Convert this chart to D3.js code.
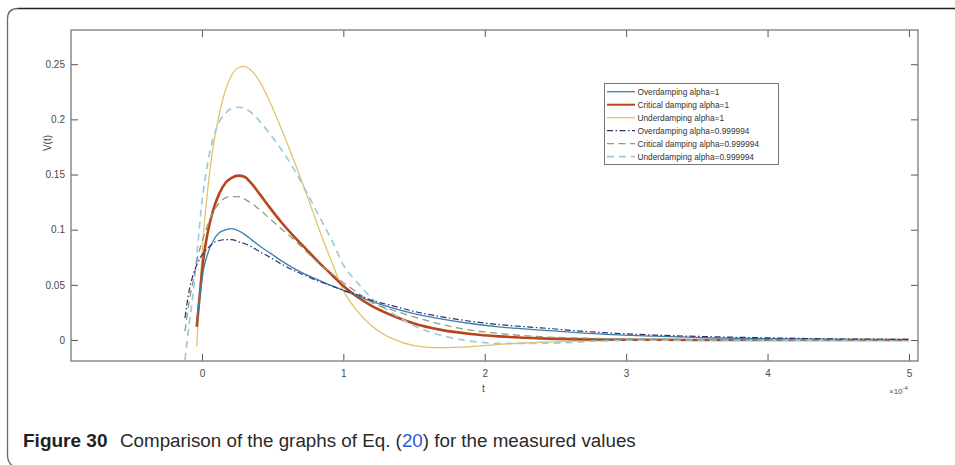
<!DOCTYPE html>
<html>
<head>
<meta charset="utf-8">
<script src="https://cdn.jsdelivr.net/npm/d3@7"></script>
<style>
  html, body { margin: 0; padding: 0; background: #fff; }
  svg { display: block; }
</style>
</head>
<body>
<svg id="chart" width="955" height="465"></svg>
<script>
// ---------- data (t in units of 1e-4) ----------
const tAlpha1 = [-0.037, -0.01, 0.01, 0.04, 0.08, 0.12, 0.17, 0.21, 0.26, 0.3, 0.35, 0.41, 0.48, 0.56, 0.65, 0.74, 0.83, 0.92, 1.0, 1.1, 1.2, 1.35, 1.5, 1.7, 1.9, 2.1, 2.4, 2.8, 3.2, 3.6, 4.0, 4.5, 5.0];
const overAlpha1 = [0.015, 0.045, 0.063, 0.078, 0.090, 0.097, 0.100, 0.101, 0.099, 0.096, 0.091, 0.085, 0.079, 0.072, 0.065, 0.059, 0.054, 0.049, 0.045, 0.040, 0.035, 0.029, 0.024, 0.019, 0.015, 0.012, 0.009, 0.0055, 0.0035, 0.002, 0.0012, 0.0006, 0.0003];
const critAlpha1 = [0.012, 0.048, 0.073, 0.097, 0.118, 0.132, 0.143, 0.147, 0.149, 0.148, 0.142, 0.132, 0.120, 0.107, 0.094, 0.082, 0.070, 0.059, 0.049, 0.039, 0.031, 0.022, 0.015, 0.009, 0.0055, 0.0033, 0.0015, 0.0005, 0.0002, 0, 0, 0, 0];
const underAlpha1 = [-0.006, 0.055, 0.095, 0.135, 0.176, 0.203, 0.228, 0.240, 0.247, 0.248, 0.244, 0.234, 0.216, 0.192, 0.163, 0.132, 0.100, 0.070, 0.045, 0.026, 0.013, 0.001, -0.005, -0.007, -0.006, -0.004, -0.002, -0.0005, 0, 0, 0, 0, 0];

const tAlphaFrac = [-0.12, -0.09, -0.06, -0.03, 0, 0.04, 0.08, 0.12, 0.17, 0.21, 0.26, 0.3, 0.35, 0.41, 0.48, 0.56, 0.65, 0.74, 0.83, 0.92, 1.0, 1.1, 1.2, 1.35, 1.5, 1.7, 1.9, 2.1, 2.4, 2.8, 3.2, 3.6, 4.0, 4.5, 5.0];
const overAlphaFrac = [0.020, 0.045, 0.060, 0.070, 0.077, 0.083, 0.088, 0.090, 0.091, 0.091, 0.089, 0.0875, 0.0845, 0.080, 0.075, 0.069, 0.063, 0.058, 0.053, 0.049, 0.045, 0.041, 0.036, 0.031, 0.026, 0.021, 0.017, 0.014, 0.011, 0.007, 0.0045, 0.003, 0.002, 0.001, 0.0006];
const critAlphaFrac = [0.008, 0.035, 0.055, 0.075, 0.089, 0.104, 0.116, 0.124, 0.129, 0.130, 0.130, 0.128, 0.124, 0.118, 0.110, 0.101, 0.091, 0.080, 0.069, 0.060, 0.052, 0.043, 0.034, 0.027, 0.021, 0.014, 0.009, 0.006, 0.003, 0.0015, 0.0007, 0.0003, 0, 0, 0];
const underAlphaFrac = [-0.018, 0.015, 0.045, 0.085, 0.125, 0.160, 0.183, 0.197, 0.206, 0.210, 0.211, 0.210, 0.206, 0.198, 0.187, 0.173, 0.155, 0.134, 0.112, 0.090, 0.068, 0.052, 0.038, 0.024, 0.013, 0.004, -0.001, -0.003, -0.003, -0.001, 0, 0, 0, 0, 0];

const seriesNames = ["Overdamping alpha=1", "Critical damping alpha=1", "Underdamping alpha=1",
                     "Overdamping alpha=0.999994", "Critical damping alpha=0.999994", "Underdamping alpha=0.999994"];
const xTicks = [0, 1, 2, 3, 4, 5];
const yTicks = [0, 0.05, 0.1, 0.15, 0.2, 0.25];
const yTickLabels = ["0", "0.05", "0.1", "0.15", "0.2", "0.25"];

// ---------- layout ----------
const svg = d3.select("#chart");
const box = {left: 71, right: 918, top: 30, bottom: 361};
const x = d3.scaleLinear().domain([-0.926, 5.064]).range([box.left, box.right]);
const y = d3.scaleLinear().domain([-0.019, 0.281]).range([box.bottom, box.top]);

// card border (left + top with rounded corners)
svg.append("path")
  .attr("d", "M7.5,452 L7.5,19 Q7.5,8.5 18,8.5")
  .attr("fill", "none").attr("stroke", "#6a6a6a").attr("stroke-width", 1.3);
svg.append("path")
  .attr("d", "M7.5,450 L7.5,455 Q7.5,465 17,468")
  .attr("fill", "none").attr("stroke", "#6a6a6a").attr("stroke-width", 1.3);
svg.append("line").attr("x1", 18).attr("x2", 960).attr("y1", 8.5).attr("y2", 8.5)
  .attr("stroke", "#222").attr("stroke-width", 1.3);

svg.append("defs").append("clipPath").attr("id", "plotclip")
  .append("rect").attr("x", box.left).attr("y", box.top)
  .attr("width", box.right - box.left).attr("height", box.bottom - box.top);

const axisColor = "#7a7a7a";
const fontFam = "'Liberation Sans', Arial, sans-serif";

// axes (MATLAB-like box with inward ticks on all sides)
const gx = svg.append("g").attr("transform", `translate(0,${box.bottom})`)
  .call(d3.axisBottom(x).tickValues(xTicks).tickFormat(d3.format("d")).tickSize(-7).tickPadding(9));
const gxTop = svg.append("g").attr("transform", `translate(0,${box.top})`)
  .call(d3.axisTop(x).tickValues(xTicks).tickFormat("").tickSize(-7));
const gy = svg.append("g").attr("transform", `translate(${box.left},0)`)
  .call(d3.axisLeft(y).tickValues(yTicks).tickFormat((d, i) => yTickLabels[i]).tickSize(-7).tickPadding(6));
const gyRight = svg.append("g").attr("transform", `translate(${box.right},0)`)
  .call(d3.axisRight(y).tickValues(yTicks).tickFormat("").tickSize(-7));

[gx, gxTop, gy, gyRight].forEach(g => {
  g.select(".domain").remove();
  g.selectAll(".tick line").attr("stroke", "#555").attr("stroke-width", 1);
  g.selectAll("text").attr("fill", "#4a4a4a").attr("font-family", fontFam).attr("font-size", 10);
});

// lines
const lineGen = d3.line().x(d => x(d[0])).y(d => y(d[1])).curve(d3.curveMonotoneX);
const series = [
  {t: tAlpha1, v: overAlpha1, color: "#3a80ab", width: 1.3, dash: null},
  {t: tAlpha1, v: critAlpha1, color: "#b8461d", width: 2.6, dash: null},
  {t: tAlpha1, v: underAlpha1, color: "#e2c36a", width: 1.3, dash: null},
  {t: tAlphaFrac, v: overAlphaFrac, color: "#2d3270", width: 1.2, dash: "6,2.5,1.5,2.5"},
  {t: tAlphaFrac, v: critAlphaFrac, color: "#8e9c80", width: 1.3, dash: "7,4.5"},
  {t: tAlphaFrac, v: underAlphaFrac, color: "#9ccbdd", width: 1.7, dash: "7,5"}
];
const plot = svg.append("g").attr("clip-path", "url(#plotclip)");
[2, 1, 0, 5, 4, 3].forEach(i => {
  const s = series[i];
  plot.append("path")
    .datum(s.t.map((tt, k) => [tt, s.v[k]]))
    .attr("d", lineGen)
    .attr("fill", "none")
    .attr("stroke", s.color)
    .attr("stroke-width", s.width)
    .attr("stroke-dasharray", s.dash)
    .attr("stroke-linejoin", "round");
});

// box
svg.append("rect").attr("x", box.left).attr("y", box.top)
  .attr("width", box.right - box.left).attr("height", box.bottom - box.top)
  .attr("fill", "none").attr("stroke", axisColor).attr("stroke-width", 1.3);

// axis labels
svg.append("text").attr("x", x(1.99)).attr("y", 392).attr("text-anchor", "middle")
  .attr("font-family", fontFam).attr("font-size", 10).attr("fill", "#4a4a4a").text("t");
svg.append("text").attr("transform", "translate(51,143) rotate(-90)").attr("text-anchor", "middle")
  .attr("font-family", fontFam).attr("font-size", 10).attr("fill", "#4a4a4a").text("V(t)");
const ex = svg.append("text").attr("x", 889).attr("y", 394)
  .attr("font-family", fontFam).attr("font-size", 8).attr("fill", "#4a4a4a");
ex.append("tspan").text("×10");
ex.append("tspan").attr("dy", -4).attr("font-size", 6).text("-4");

// legend
const lg = svg.append("g");
lg.append("rect").attr("x", 604.5).attr("y", 83.5).attr("width", 174).attr("height", 81)
  .attr("fill", "#fff").attr("stroke", "#777").attr("stroke-width", 1);
const rowY = [91.7, 104.7, 117.7, 130.7, 143.7, 156.7];
seriesNames.forEach((name, i) => {
  const s = series[i];
  lg.append("line").attr("x1", 607).attr("x2", 635).attr("y1", rowY[i]).attr("y2", rowY[i])
    .attr("stroke", s.color).attr("stroke-width", Math.min(s.width, 2))
    .attr("stroke-dasharray", s.dash);
  lg.append("text").attr("x", 637.5).attr("y", rowY[i] + 3)
    .attr("font-family", fontFam).attr("font-size", 8.3).attr("fill", "#333").text(name);
});

// caption (separate text pieces placed one after another)
svg.append("text").attr("x", 23).attr("y", 447)
  .attr("font-family", "'Liberation Sans', sans-serif").attr("font-weight", "bold")
  .attr("font-size", 19).attr("fill", "#222").text("Figure 30");
const capParts = [
  {text: "Comparison of the graphs of Eq. (", color: "#2a2a2a"},
  {text: "20", color: "#2a5bd7"},
  {text: ") for the measured values", color: "#2a2a2a"}
];
let cx = 120;
capParts.forEach(p => {
  const el = svg.append("text").attr("x", cx).attr("y", 447)
    .attr("font-family", "'Liberation Sans', sans-serif").attr("font-size", 18.8)
    .attr("fill", p.color).text(p.text);
  cx += el.node().getComputedTextLength();
});
</script>
</body>
</html>
